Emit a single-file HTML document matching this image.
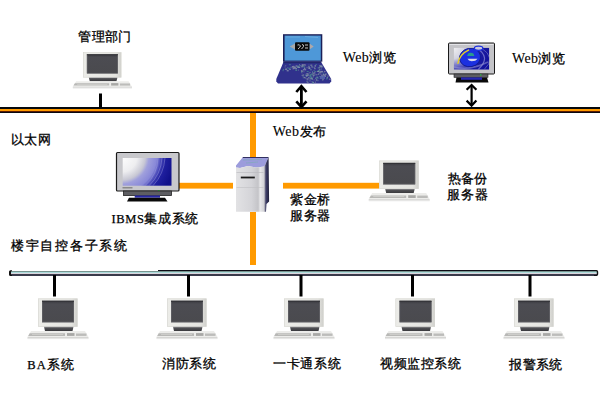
<!DOCTYPE html>
<html><head><meta charset="utf-8">
<style>
html,body{margin:0;padding:0;background:#fff;width:600px;height:400px;overflow:hidden}
svg{position:absolute;left:0;top:0}
.t{position:absolute;font-family:"Liberation Sans",sans-serif;font-size:12.5px;line-height:15px;color:#000;white-space:nowrap;-webkit-text-stroke:0.3px #000}
.w{font-family:"Liberation Serif",serif;font-size:14px;-webkit-text-stroke:0.1px #000}
.i{font-family:"Liberation Serif",serif;font-size:12.5px;-webkit-text-stroke:0.25px #000}
</style></head><body>
<svg width="600" height="400" viewBox="0 0 600 400">
<defs>
  <linearGradient id="stand" x1="0" y1="0" x2="0" y2="1">
    <stop offset="0" stop-color="#9a9a9c"/><stop offset="0.3" stop-color="#505054"/><stop offset="1" stop-color="#3a3a3e"/>
  </linearGradient>
  <linearGradient id="frm" x1="0" y1="0" x2="1" y2="0">
    <stop offset="0" stop-color="#ecece8"/><stop offset="0.85" stop-color="#e4e4e0"/><stop offset="1" stop-color="#cfcfcb"/>
  </linearGradient>
  <linearGradient id="scr" x1="0" y1="0" x2="0" y2="1">
    <stop offset="0" stop-color="#3a3a40"/><stop offset="0.15" stop-color="#4c4c52"/><stop offset="1" stop-color="#4a4a4e"/>
  </linearGradient>
  <g id="pc">
    <rect x="0" y="0" width="39.5" height="28.3" fill="url(#frm)"/>
    <rect x="0.3" y="0.3" width="38.9" height="27.7" fill="none" stroke="#d8d8d2" stroke-width="0.6"/>
    <rect x="4" y="2.3" width="32" height="21.5" fill="url(#scr)"/>
    <rect x="4.3" y="2.6" width="31.4" height="20.9" fill="none" stroke="#6a6a6e" stroke-width="0.6"/>
    <rect x="4" y="2.3" width="32" height="0.9" fill="#2c2c30"/>
    <polygon points="6,28.3 35.5,28.3 34.5,32.4 7,32.4" fill="url(#stand)"/>
    <polygon points="-7,32.4 47,32.4 50.5,38.6 -10.5,38.6" fill="#ececea"/>
    <polygon points="-8.3,34.8 27,34.8 27,37.4 -9.8,37.4" fill="#b8b8b6"/>
    <rect x="-6" y="35.6" width="31" height="0.7" fill="#d4d4d2"/>
    <rect x="29" y="34.6" width="7.5" height="2.8" fill="#a8a8a6"/>
    <rect x="38" y="35" width="10.5" height="2.4" fill="#bcbcba"/>
    <rect x="-10.5" y="38.6" width="61" height="1.2" fill="#d2d2d0"/>
    <rect x="-10.5" y="39.8" width="61" height="0.8" fill="#e2e2e0"/>
  </g>
  <radialGradient id="ibms" gradientUnits="userSpaceOnUse" cx="121" cy="156" r="54">
    <stop offset="0" stop-color="#ffffff"/><stop offset="0.3" stop-color="#eeeef0"/><stop offset="0.45" stop-color="#c8c8d4"/>
    <stop offset="0.52" stop-color="#a0a0dc"/><stop offset="0.66" stop-color="#8888d8"/>
    <stop offset="0.74" stop-color="#4848b8"/><stop offset="0.82" stop-color="#2020a0"/><stop offset="1" stop-color="#10108a"/>
  </radialGradient>
  <radialGradient id="ies" gradientUnits="userSpaceOnUse" cx="452" cy="47" r="40">
    <stop offset="0" stop-color="#f4f4f4"/><stop offset="0.3" stop-color="#d4d4e0"/>
    <stop offset="0.42" stop-color="#9090d0"/><stop offset="0.6" stop-color="#3a3ab0"/><stop offset="0.75" stop-color="#1a1aa0"/><stop offset="1" stop-color="#10109a"/>
  </radialGradient>
  <linearGradient id="srvF" x1="0" y1="0" x2="1" y2="0">
    <stop offset="0" stop-color="#e2e2e4"/><stop offset="0.55" stop-color="#d4d4d8"/><stop offset="0.78" stop-color="#c4c4c8"/><stop offset="0.85" stop-color="#e8e8ea"/><stop offset="1" stop-color="#d0d0d4"/>
  </linearGradient>
  <linearGradient id="srvS" x1="0" y1="0" x2="1" y2="0">
    <stop offset="0" stop-color="#8a8a98"/><stop offset="0.4" stop-color="#3c3c66"/><stop offset="1" stop-color="#20203a"/>
  </linearGradient>
</defs>

<!-- top ethernet -->
<rect x="0" y="107" width="600" height="2" fill="#05080c"/>
<rect x="0" y="109" width="600" height="2" fill="#ff9a00"/>
<rect x="0" y="111" width="600" height="1" fill="#5a1a00"/>
<rect x="0" y="112" width="600" height="1" fill="#080810"/>

<!-- top pc line -->
<rect x="99" y="93.5" width="3" height="14" fill="#000"/>
<use href="#pc" transform="translate(83,52.3) scale(0.97,0.89)"/>

<!-- laptop -->
<rect x="283" y="34.2" width="39.3" height="27.5" fill="#1c2058"/>
<rect x="284.6" y="35.6" width="36.2" height="25" fill="#4e98d8"/>
<path d="M286,37 L300,37 M305,36.5 L318,37.5" stroke="#70b0e0" stroke-width="0.8"/>
<polygon points="289.7,46.5 295,43.5 295,49.5" fill="#a8a8a8"/>
<polygon points="313.7,46.5 309.5,43.5 309.5,49.5" fill="#b0a8a8"/>
<rect x="295" y="42.3" width="14.5" height="8.5" rx="1" fill="#0a0a0a"/>
<path d="M297.5,45 q2,-1 3,1 q-1,2 -2.5,3 M302,44.5 q2,0 1.5,2 q-1,1.5 -2,2.5 M305,45 h3 M305,48 h3" stroke="#c8c8c8" stroke-width="1" fill="none"/>
<polygon points="283.7,61.5 320.8,61.5 331.2,79 331.2,81.5 329.5,83.6 278,83.6 276.3,81.5 276.3,79" fill="#30318c"/>
<polygon points="283.7,61.5 320.8,61.5 321.5,63.2 283,63.2" fill="#22266a"/>
<rect x="302.6" y="74.1" width="1.5" height="1.5" fill="#686898" opacity="0.75"/>
<rect x="305.4" y="74.6" width="2" height="1.5" fill="#6a98a0" opacity="0.75"/>
<rect x="311.5" y="78.3" width="1.5" height="1.5" fill="#7a88a0" opacity="0.75"/>
<rect x="324.5" y="75.4" width="1.5" height="1.5" fill="#9098b0" opacity="0.75"/>
<rect x="312.7" y="75.1" width="2" height="1" fill="#6a98a0" opacity="0.75"/>
<rect x="310.0" y="78.0" width="1.5" height="1" fill="#8890a8" opacity="0.75"/>
<rect x="306.0" y="75.5" width="1" height="1" fill="#4a8a90" opacity="0.75"/>
<rect x="302.9" y="69.0" width="1" height="1.5" fill="#9098b0" opacity="0.75"/>
<rect x="295.8" y="68.1" width="1" height="1" fill="#8890a8" opacity="0.75"/>
<rect x="308.2" y="65.9" width="1.5" height="1.5" fill="#7a88a0" opacity="0.75"/>
<rect x="314.2" y="67.8" width="1.5" height="1.5" fill="#7a88a0" opacity="0.75"/>
<rect x="318.9" y="68.9" width="1.5" height="1.5" fill="#7a88a0" opacity="0.75"/>
<rect x="315.4" y="64.2" width="1.5" height="1" fill="#4a8a90" opacity="0.75"/>
<rect x="314.1" y="67.4" width="1" height="1" fill="#9098b0" opacity="0.75"/>
<rect x="301.0" y="70.9" width="1.5" height="1" fill="#4a8a90" opacity="0.75"/>
<rect x="310.1" y="74.4" width="1" height="1" fill="#7a88a0" opacity="0.75"/>
<rect x="302.1" y="64.2" width="1.5" height="1.5" fill="#9098b0" opacity="0.75"/>
<rect x="299.3" y="65.3" width="2" height="1" fill="#6a98a0" opacity="0.75"/>
<rect x="311.1" y="66.3" width="1.5" height="1" fill="#9098b0" opacity="0.75"/>
<rect x="320.9" y="68.5" width="1" height="1" fill="#6a98a0" opacity="0.75"/>
<rect x="314.3" y="71.0" width="2" height="1" fill="#4a8a90" opacity="0.75"/>
<rect x="301.1" y="65.9" width="2" height="1.5" fill="#7a88a0" opacity="0.75"/>
<rect x="309.8" y="69.3" width="2" height="1" fill="#6a98a0" opacity="0.75"/>
<rect x="312.7" y="75.1" width="1.5" height="1" fill="#7a88a0" opacity="0.75"/>
<rect x="302.3" y="65.1" width="1.5" height="1.5" fill="#6a98a0" opacity="0.75"/>
<rect x="306.6" y="81.5" width="1.5" height="1" fill="#7a88a0" opacity="0.75"/>
<rect x="312.8" y="76.4" width="1" height="1" fill="#9098b0" opacity="0.75"/>
<rect x="297.9" y="69.6" width="1" height="1" fill="#7a88a0" opacity="0.75"/>
<rect x="304.1" y="77.1" width="1" height="1" fill="#8890a8" opacity="0.75"/>
<rect x="316.9" y="80.2" width="2" height="1" fill="#5a6a98" opacity="0.75"/>
<rect x="323.2" y="74.3" width="2" height="1.5" fill="#9098b0" opacity="0.75"/>
<rect x="299.0" y="64.2" width="1" height="1" fill="#7a88a0" opacity="0.75"/>
<rect x="312.0" y="81.9" width="2" height="1.5" fill="#4a8a90" opacity="0.75"/>
<rect x="309.0" y="71.9" width="2" height="1" fill="#686898" opacity="0.75"/>
<rect x="305.9" y="73.3" width="2" height="1" fill="#8890a8" opacity="0.75"/>
<rect x="304.0" y="68.1" width="1" height="1.5" fill="#5a6a98" opacity="0.75"/>
<rect x="319.0" y="75.9" width="1.5" height="1" fill="#4a8a90" opacity="0.75"/>
<rect x="298.4" y="66.6" width="1" height="1" fill="#9098b0" opacity="0.75"/>
<rect x="317.7" y="70.2" width="1.5" height="1" fill="#4a8a90" opacity="0.75"/>
<rect x="324.0" y="70.9" width="1.5" height="1" fill="#9098b0" opacity="0.75"/>
<rect x="321.9" y="79.3" width="1" height="1.5" fill="#5a6a98" opacity="0.75"/>
<rect x="321.1" y="66.0" width="1.5" height="1" fill="#4a8a90" opacity="0.75"/>
<rect x="321.5" y="70.9" width="1.5" height="1.5" fill="#9098b0" opacity="0.75"/>
<rect x="315.8" y="79.2" width="1.5" height="1.5" fill="#9098b0" opacity="0.75"/>
<rect x="315.4" y="74.3" width="2" height="1" fill="#8890a8" opacity="0.75"/>
<rect x="312.0" y="71.3" width="1" height="1.5" fill="#6a98a0" opacity="0.75"/>
<rect x="291.9" y="66.5" width="2" height="1" fill="#7a88a0" opacity="0.75"/>
<rect x="302.3" y="75.3" width="2" height="1.5" fill="#5a6a98" opacity="0.75"/>
<rect x="288.9" y="64.2" width="2" height="1" fill="#4a8a90" opacity="0.75"/>
<rect x="289.0" y="68.9" width="2" height="1" fill="#8890a8" opacity="0.75"/>
<rect x="326.6" y="77.0" width="1.5" height="1.5" fill="#6a98a0" opacity="0.75"/>
<rect x="312.6" y="73.0" width="1.5" height="1.5" fill="#686898" opacity="0.75"/>
<rect x="286.2" y="68.4" width="1" height="1.5" fill="#4a8a90" opacity="0.75"/>
<rect x="306.8" y="78.2" width="1.5" height="1" fill="#8890a8" opacity="0.75"/>
<rect x="297.4" y="65.5" width="1.5" height="1.5" fill="#4a8a90" opacity="0.75"/>
<rect x="318.4" y="72.8" width="1" height="1" fill="#7a88a0" opacity="0.75"/>
<rect x="301.4" y="64.6" width="1.5" height="1" fill="#9098b0" opacity="0.75"/>
<rect x="325.0" y="73.3" width="2" height="1.5" fill="#5a6a98" opacity="0.75"/>
<rect x="311.9" y="73.4" width="2" height="1.5" fill="#686898" opacity="0.75"/>
<rect x="308.6" y="67.6" width="1" height="1" fill="#9098b0" opacity="0.75"/>
<rect x="310.3" y="64.5" width="2" height="1.5" fill="#7a88a0" opacity="0.75"/>
<rect x="307.2" y="81.8" width="1.5" height="1" fill="#7a88a0" opacity="0.75"/>
<rect x="314.5" y="65.2" width="1.5" height="1.5" fill="#9098b0" opacity="0.75"/>
<rect x="326.0" y="78.4" width="1.5" height="1" fill="#4a8a90" opacity="0.75"/>
<rect x="303.7" y="66.3" width="1.5" height="1.5" fill="#4a8a90" opacity="0.75"/>
<rect x="315.1" y="81.6" width="1" height="1" fill="#7a88a0" opacity="0.75"/>
<rect x="311.0" y="65.9" width="2" height="1" fill="#5a6a98" opacity="0.75"/>
<rect x="322.6" y="75.2" width="1" height="1.5" fill="#5a6a98" opacity="0.75"/>
<rect x="321.3" y="75.1" width="1" height="1" fill="#9098b0" opacity="0.75"/>
<rect x="306.5" y="79.3" width="2" height="1" fill="#9098b0" opacity="0.75"/>
<rect x="295.8" y="69.7" width="1" height="1" fill="#6a98a0" opacity="0.75"/>
<rect x="293.0" y="65.7" width="1.5" height="1" fill="#686898" opacity="0.75"/>
<rect x="319.9" y="65.7" width="2" height="1.5" fill="#9098b0" opacity="0.75"/>
<rect x="317.9" y="73.1" width="1" height="1" fill="#5a6a98" opacity="0.75"/>
<rect x="304.1" y="64.4" width="2" height="1.5" fill="#686898" opacity="0.75"/>
<rect x="287.3" y="67.3" width="1" height="1" fill="#6a98a0" opacity="0.75"/>
<rect x="284.8" y="65.1" width="1.5" height="1" fill="#5a6a98" opacity="0.75"/>
<rect x="318.2" y="69.9" width="1.5" height="1.5" fill="#4a8a90" opacity="0.75"/>
<rect x="301.5" y="74.8" width="2" height="1" fill="#7a88a0" opacity="0.75"/>
<rect x="302.7" y="77.3" width="1" height="1" fill="#4a8a90" opacity="0.75"/>
<rect x="296.2" y="65.5" width="2" height="1.5" fill="#686898" opacity="0.75"/>
<rect x="308.5" y="67.4" width="1.5" height="1.5" fill="#9098b0" opacity="0.75"/>
<rect x="294.0" y="66.1" width="1" height="1.5" fill="#5a6a98" opacity="0.75"/>
<rect x="286.7" y="69.9" width="2" height="1.5" fill="#9098b0" opacity="0.75"/>
<rect x="318.4" y="77.8" width="1" height="1" fill="#4a8a90" opacity="0.75"/>
<rect x="303.4" y="64.2" width="2" height="1" fill="#8890a8" opacity="0.75"/>
<rect x="313.3" y="70.1" width="1.5" height="1" fill="#5a6a98" opacity="0.75"/>
<rect x="306.7" y="71.0" width="2" height="1" fill="#4a8a90" opacity="0.75"/>
<rect x="315.1" y="77.7" width="1" height="1" fill="#9098b0" opacity="0.75"/>
<rect x="310.8" y="77.3" width="1.5" height="1.5" fill="#8890a8" opacity="0.75"/>
<rect x="305.2" y="77.7" width="1.5" height="1" fill="#5a6a98" opacity="0.75"/>
<rect x="284.9" y="68.5" width="2" height="1.5" fill="#8890a8" opacity="0.75"/>
<rect x="320.5" y="65.4" width="2" height="1" fill="#9098b0" opacity="0.75"/>
<rect x="322.8" y="73.8" width="1" height="1.5" fill="#9098b0" opacity="0.75"/>
<rect x="306.3" y="74.8" width="2" height="1.5" fill="#8890a8" opacity="0.75"/>
<rect x="304.2" y="68.9" width="2" height="1.5" fill="#8890a8" opacity="0.75"/>
<rect x="309.3" y="75.4" width="2" height="1.5" fill="#4a8a90" opacity="0.75"/>
<rect x="282.6" y="69.7" width="1" height="1.5" fill="#4a8a90" opacity="0.75"/>
<rect x="301.5" y="72.6" width="1" height="1" fill="#686898" opacity="0.75"/>
<rect x="306.2" y="80.9" width="1.5" height="1" fill="#5a6a98" opacity="0.75"/>
<rect x="328.9" y="78.7" width="2" height="1" fill="#9098b0" opacity="0.75"/>
<rect x="297.8" y="66.8" width="1.5" height="1" fill="#8890a8" opacity="0.75"/>
<rect x="313.4" y="72.2" width="2" height="1.5" fill="#8890a8" opacity="0.75"/>
<rect x="320.8" y="66.5" width="2" height="1" fill="#8890a8" opacity="0.75"/>
<rect x="291.9" y="66.0" width="2" height="1.5" fill="#8890a8" opacity="0.75"/>
<rect x="316.3" y="76.6" width="2" height="1.5" fill="#6a98a0" opacity="0.75"/>
<rect x="317.7" y="67.4" width="2" height="1" fill="#6a98a0" opacity="0.75"/>
<rect x="283.0" y="68.9" width="1" height="1" fill="#4a8a90" opacity="0.75"/>
<rect x="313.8" y="73.9" width="1.5" height="1.5" fill="#5a6a98" opacity="0.75"/>
<rect x="303.9" y="67.8" width="1.5" height="1" fill="#8890a8" opacity="0.75"/>
<rect x="311.2" y="77.8" width="1.5" height="1.5" fill="#6a98a0" opacity="0.75"/>
<rect x="317.4" y="71.0" width="1.5" height="1" fill="#6a98a0" opacity="0.75"/>
<rect x="312.7" y="81.8" width="1.5" height="1" fill="#8890a8" opacity="0.75"/>
<rect x="301.4" y="70.6" width="1.5" height="1.5" fill="#7a88a0" opacity="0.75"/>
<rect x="308.2" y="72.7" width="1.5" height="1.5" fill="#5a6a98" opacity="0.75"/>
<rect x="310.2" y="76.5" width="2" height="1.5" fill="#4a8a90" opacity="0.75"/>
<rect x="294.1" y="66.6" width="2" height="1.5" fill="#8890a8" opacity="0.75"/>
<rect x="298.3" y="66.1" width="1.5" height="1.5" fill="#5a6a98" opacity="0.75"/>
<rect x="295.2" y="69.7" width="2" height="1" fill="#4a8a90" opacity="0.75"/>
<rect x="309.2" y="78.3" width="2" height="1.5" fill="#5a6a98" opacity="0.75"/>
<rect x="319.9" y="73.7" width="2" height="1" fill="#686898" opacity="0.75"/>
<rect x="307.2" y="74.2" width="2" height="1.5" fill="#7a88a0" opacity="0.75"/>
<rect x="319.4" y="65.5" width="1.5" height="1" fill="#7a88a0" opacity="0.75"/>
<rect x="311.7" y="66.6" width="2" height="1.5" fill="#5a6a98" opacity="0.75"/>
<rect x="292.3" y="68.0" width="2" height="1.5" fill="#686898" opacity="0.75"/>
<rect x="318.2" y="71.1" width="1.5" height="1" fill="#8890a8" opacity="0.75"/>
<rect x="304.7" y="73.7" width="1" height="1" fill="#5a6a98" opacity="0.75"/>
<rect x="313.3" y="79.4" width="1.5" height="1" fill="#686898" opacity="0.75"/>
<rect x="312.0" y="73.4" width="1" height="1" fill="#5a6a98" opacity="0.75"/>
<rect x="301.1" y="71.6" width="1" height="1" fill="#6a98a0" opacity="0.75"/>
<rect x="288.4" y="67.7" width="2" height="1.5" fill="#4a8a90" opacity="0.75"/>
<rect x="303.6" y="77.2" width="2" height="1" fill="#8890a8" opacity="0.75"/>
<rect x="318.8" y="67.2" width="1.5" height="1" fill="#7a88a0" opacity="0.75"/>
<rect x="309.2" y="80.4" width="1.5" height="1" fill="#7a88a0" opacity="0.75"/>
<rect x="309.4" y="74.8" width="2" height="1" fill="#4a8a90" opacity="0.75"/>
<rect x="326.9" y="75.3" width="2" height="1.5" fill="#686898" opacity="0.75"/>
<rect x="322.7" y="72.7" width="1.5" height="1" fill="#4a8a90" opacity="0.75"/>
<rect x="304.1" y="68.0" width="1" height="1" fill="#7a88a0" opacity="0.75"/>
<rect x="320.1" y="70.9" width="2" height="1.5" fill="#9098b0" opacity="0.75"/>
<rect x="319.4" y="65.0" width="1" height="1.5" fill="#6a98a0" opacity="0.75"/>
<rect x="323.7" y="71.5" width="1.5" height="1" fill="#686898" opacity="0.75"/>
<rect x="305.8" y="75.5" width="1.5" height="1" fill="#9098b0" opacity="0.75"/>
<rect x="322.3" y="78.8" width="1.5" height="1.5" fill="#7a88a0" opacity="0.75"/>
<rect x="310.7" y="73.5" width="2" height="1.5" fill="#4a8a90" opacity="0.75"/>
<rect x="307.2" y="73.1" width="1" height="1.5" fill="#7a88a0" opacity="0.75"/>
<rect x="319.1" y="71.9" width="2" height="1.5" fill="#7a88a0" opacity="0.75"/>
<rect x="306.3" y="66.8" width="1.5" height="1.5" fill="#686898" opacity="0.75"/>
<rect x="295.5" y="65.4" width="1.5" height="1" fill="#8890a8" opacity="0.75"/>
<rect x="321.5" y="75.8" width="1.5" height="1.5" fill="#7a88a0" opacity="0.75"/>
<rect x="302.9" y="64.2" width="2" height="1" fill="#686898" opacity="0.75"/>
<rect x="311.4" y="80.9" width="1.5" height="1.5" fill="#5a6a98" opacity="0.75"/>
<rect x="317.7" y="74.0" width="1.5" height="1" fill="#7a88a0" opacity="0.75"/>
<rect x="308.1" y="77.0" width="1.5" height="1.5" fill="#8890a8" opacity="0.75"/>
<rect x="284.6" y="66.5" width="1" height="1" fill="#7a88a0" opacity="0.75"/>
<rect x="321.8" y="74.7" width="1" height="1" fill="#7a88a0" opacity="0.75"/>
<rect x="290.3" y="66.7" width="1.5" height="1.5" fill="#5a6a98" opacity="0.75"/>
<rect x="315.0" y="81.7" width="1" height="1" fill="#686898" opacity="0.75"/>
<rect x="293.0" y="67.4" width="2" height="1.5" fill="#8890a8" opacity="0.75"/>
<rect x="305.5" y="78.2" width="1" height="1" fill="#686898" opacity="0.75"/>
<rect x="294.9" y="68.2" width="2" height="1" fill="#9098b0" opacity="0.75"/>
<rect x="308.7" y="67.6" width="2" height="1" fill="#9098b0" opacity="0.75"/>
<rect x="308.4" y="64.5" width="1" height="1" fill="#5a6a98" opacity="0.75"/>
<rect x="300.9" y="70.0" width="1.5" height="1.5" fill="#7a88a0" opacity="0.75"/>
<rect x="303.2" y="66.2" width="1" height="1" fill="#5a6a98" opacity="0.75"/>
<rect x="325.2" y="73.8" width="1" height="1.5" fill="#9098b0" opacity="0.75"/>
<rect x="298.2" y="67.0" width="2" height="1" fill="#9098b0" opacity="0.75"/>
<rect x="302.7" y="71.3" width="2" height="1" fill="#686898" opacity="0.75"/>
<rect x="316.9" y="70.9" width="2" height="1" fill="#9098b0" opacity="0.75"/>
<rect x="296.8" y="66.4" width="2" height="1.5" fill="#6a98a0" opacity="0.75"/>
<rect x="316.1" y="78.2" width="1.5" height="1" fill="#4a8a90" opacity="0.75"/>
<rect x="320" y="76" width="5" height="3" fill="#5a6ab0" opacity="0.8"/>
<!-- arrow 1 -->
<rect x="300" y="87" width="2.8" height="19" fill="#000"/>
<path d="M296.3,92 L301.4,86.2 L306.5,92" stroke="#000" stroke-width="2.6" fill="none" stroke-linejoin="miter"/>
<path d="M296.3,101.4 L301.4,107 L306.5,101.4" stroke="#000" stroke-width="2.6" fill="none" stroke-linejoin="miter"/>
<!-- IE monitor -->
<clipPath id="iec"><rect x="453.7" y="47.7" width="35.6" height="22"/></clipPath>
<rect x="448.5" y="43" width="46" height="31" rx="1" fill="#c4c4c8" stroke="#1a1a1a" stroke-width="1"/>
<rect x="449.5" y="44" width="44" height="1" fill="#e4e4e8"/>
<g clip-path="url(#iec)">
<rect x="453.7" y="47.7" width="35.6" height="22" fill="url(#ies)"/>
<path d="M476,47.7 Q492,57 478,69.7" stroke="#9090d8" stroke-width="1.2" fill="none" opacity="0.7"/>
<path d="M481,47.7 Q497,58 484,69.7" stroke="#7070c8" stroke-width="1" fill="none" opacity="0.7"/>
<path d="M454,67 Q470,71 488,62" stroke="#a0a0d8" stroke-width="1.5" fill="none" opacity="0.5"/>
<ellipse cx="470" cy="57.5" rx="10.6" ry="9.2" fill="#1c30e0" stroke="#10188a" stroke-width="0.8" transform="rotate(-12 470 57.5)"/>
<path d="M467.2,56.1 Q467.4,52.7 470.7,52.7 Q474.1,52.7 474.3,56.1 Z" fill="#2a9a90"/>
<path d="M467.5,58.8 L477.5,58.8 Q476,61.3 471.5,61.3 Q468.5,61 467.5,58.8 Z" fill="#d8d8ec"/>
<path d="M457.8,63.8 Q459.5,54 469,49.8" stroke="#e8d020" stroke-width="1.4" fill="none"/>
</g>
<ellipse cx="478.6" cy="48.2" rx="4.2" ry="2.1" fill="#c8c8e0" stroke="#1c30e0" stroke-width="1.3"/>
<rect x="454" y="74" width="34" height="3.4" fill="#5e5e62" stroke="#222" stroke-width="0.6"/>
<rect x="480" y="74.3" width="1.5" height="1.2" fill="#20c040"/>
<polygon points="456.5,77.4 487,77.4 488.5,82.4 455.5,82.4" fill="#0a0a0a"/>
<rect x="461" y="77.4" width="21" height="2.4" fill="#2828b0"/>
<!-- arrow 2 -->
<rect x="470.5" y="86" width="2.2" height="19" fill="#000"/>
<path d="M466.6,89.8 L471.6,85 L476.4,89.8" stroke="#000" stroke-width="2.2" fill="none" stroke-linejoin="miter"/>
<path d="M466.6,100.6 L471.6,105.6 L476.4,100.6" stroke="#000" stroke-width="2.2" fill="none" stroke-linejoin="miter"/>
<!-- orange lines -->
<rect x="250" y="113" width="6" height="45" fill="#ff9a00"/>
<rect x="250" y="212" width="6" height="53" fill="#ff9a00"/>
<rect x="179" y="182.8" width="54" height="5.8" fill="#ff9a00"/>
<rect x="283" y="182.8" width="96" height="5.8" fill="#ff9a00"/>

<!-- IBMS monitor -->
<rect x="116.5" y="152.5" width="62.5" height="38.5" rx="1" fill="#c8c8cc" stroke="#1a1a1a" stroke-width="1.2"/>
<rect x="122.7" y="158" width="48.8" height="27.7" fill="url(#ibms)"/>
<path d="M145,185.7 A38,38 0 0 0 158,158 M149,185.7 A42,42 0 0 0 162,158 M153,185.7 A45,45 0 0 0 165,158" stroke="#a0a0e0" stroke-width="0.7" fill="none" opacity="0.6"/>
<rect x="122.5" y="187" width="10" height="1.5" fill="#8a8a8a"/>
<rect x="158" y="190" width="1.5" height="1.5" fill="#20c040"/>
<rect x="123.5" y="191" width="48" height="4.5" fill="#5e5e62" stroke="#222" stroke-width="0.8"/>
<rect x="134.7" y="195.5" width="25.3" height="2.2" fill="#2828a8"/>
<polygon points="129,197.7 165,197.7 167.5,201.5 127,201.5" fill="#0a0a0a"/>

<!-- server -->
<polygon points="236,165.5 242.8,157.2 268.6,157.2 264.4,166.5 256,167.5 248,166 240,168 236,167.5" fill="#9c9cdc"/>
<path d="M243,160 L262,159.5 M246,163 L258,162" stroke="#7ab0b0" stroke-width="0.8" opacity="0.7"/>
<path d="M242.8,157.5 L268.4,157.5" stroke="#303060" stroke-width="1"/>
<polygon points="236,167.5 240,168 248,166 256,167.5 264.4,166.5 264.4,211.8 236,211.8" fill="url(#srvF)"/>
<polygon points="264.4,166.5 268.6,157.2 269.1,201.5 266.5,204 266,211.8 264.4,211.8" fill="url(#srvS)"/>
<rect x="240.8" y="176.6" width="14" height="1.8" fill="#1a1a1a"/>
<rect x="236.5" y="172" width="27" height="0.6" fill="#b8b8bc"/>
<rect x="236.5" y="187" width="27" height="0.6" fill="#c0c0c4"/>
<!-- hot standby pc -->
<use href="#pc" x="379.2" y="160.6"/>

<!-- bottom bus -->
<rect x="158" y="270" width="438" height="1" fill="#0c0c16"/>
<rect x="11" y="271" width="586" height="1" fill="#78948f"/>
<rect x="11" y="272" width="586" height="1" fill="#aadada"/>
<rect x="11" y="273" width="586" height="1" fill="#dad4dc"/>
<rect x="11" y="274" width="586" height="2" fill="#3a3a4a"/>
<path d="M12,270.2 L10.5,270.2 Q9,270.2 9,271.7 L9,274.5 Q9,276 10.5,276 L12,276 L12,275 L11,275 L11,271.2 L12,271.2 Z" fill="#111"/>
<path d="M594,270 L596.5,270 Q598.2,270 598.2,271.7 L598.2,274.3 Q598.2,276 596.5,276 L594,276 L594,275 L596.3,275 L596.8,274.5 L596.8,271.5 L596.3,271 L594,271 Z" fill="#111"/>
<!-- bottom lines + pcs -->
<rect x="53" y="275" width="3" height="21.5" fill="#000"/>
<rect x="187" y="275" width="3" height="21.5" fill="#000"/>
<rect x="299.5" y="275" width="3" height="21.5" fill="#000"/>
<rect x="411" y="275" width="3" height="21.5" fill="#000"/>
<rect x="528.5" y="275" width="3" height="21.5" fill="#000"/>
<use href="#pc" x="38" y="298.5"/>
<use href="#pc" x="167" y="298.5"/>
<use href="#pc" x="284" y="298.5"/>
<use href="#pc" x="395.5" y="298.5"/>
<use href="#pc" x="514" y="298.5"/>
</svg>

<div class="t" style="left:78.3px;top:30.2px;letter-spacing:0.4px">管理部门</div>
<div class="t" style="left:342.7px;top:50.4px;letter-spacing:0.4px"><span class=w>Web</span>浏览</div>
<div class="t" style="left:512px;top:50.6px;letter-spacing:0.38px"><span class=w>Web</span>浏览</div>
<div class="t" style="left:10.5px;top:133px;letter-spacing:0.65px">以太网</div>
<div class="t" style="left:272.7px;top:124.4px;letter-spacing:0.5px"><span class=w>Web</span>发布</div>
<div class="t" style="left:447.5px;top:172.4px;letter-spacing:0.1px">热备份</div>
<div class="t" style="left:446.5px;top:188.4px;letter-spacing:1.1px">服务器</div>
<div class="t" style="left:289.7px;top:193.4px;letter-spacing:0.9px">紫金桥</div>
<div class="t" style="left:289.7px;top:208.6px;letter-spacing:0.9px">服务器</div>
<div class="t" style="left:111.4px;top:211.9px;letter-spacing:0.63px"><span class=i>IBMS</span>集成系统</div>
<div class="t" style="left:11px;top:238.9px;letter-spacing:1.71px">楼宇自控各子系统</div>
<div class="t" style="left:27.3px;top:357.7px;letter-spacing:1.0px"><span class=i>BA</span>系统</div>
<div class="t" style="left:162px;top:356.9px;letter-spacing:0.67px">消防系统</div>
<div class="t" style="left:273px;top:357.4px;letter-spacing:0.7px">一卡通系统</div>
<div class="t" style="left:380px;top:357.4px;letter-spacing:0.54px">视频监控系统</div>
<div class="t" style="left:509.3px;top:357.8px;letter-spacing:0.37px">报警系统</div>
</body></html>
